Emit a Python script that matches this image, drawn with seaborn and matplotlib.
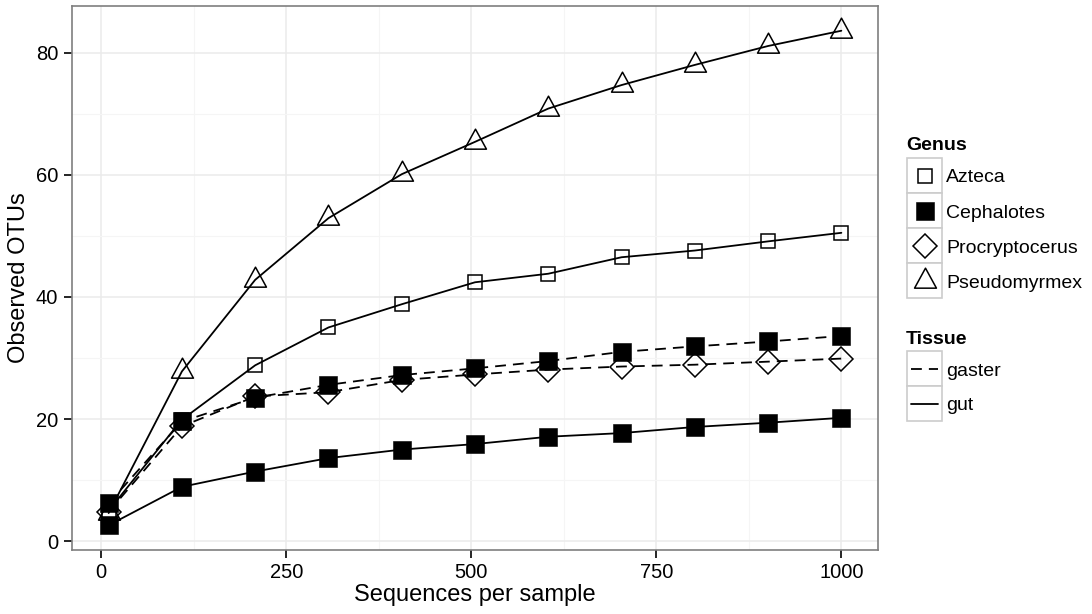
import pandas as pd
import seaborn as sns
import matplotlib.pyplot as plt
from matplotlib.lines import Line2D
from matplotlib.patches import Rectangle
from matplotlib.path import Path
from matplotlib.ticker import MultipleLocator

sns.set_style("white")
plt.rcParams["font.family"] = ["Liberation Sans", "DejaVu Sans"]
plt.rcParams["text.color"] = "black"
plt.rcParams["axes.labelcolor"] = "black"

# rarefaction depths and mean observed OTUs per genus / tissue
seqs = [10, 109, 208, 307, 406, 505, 604, 703, 802, 901, 1000]
azteca_gut = [5.0, 19.9, 28.8, 35.0, 38.8, 42.4, 43.8, 46.5, 47.6, 49.1, 50.5]
cephalotes_gaster = [6.2, 19.6, 23.5, 25.6, 27.2, 28.3, 29.5, 31.0, 31.9, 32.7, 33.6]
cephalotes_gut = [2.6, 8.9, 11.4, 13.6, 15.0, 15.9, 17.1, 17.7, 18.7, 19.4, 20.2]
procryptocerus_gaster = [4.8, 18.8, 23.7, 24.4, 26.4, 27.3, 28.1, 28.6, 28.9, 29.4, 29.9]
pseudomyrmex_gut = [4.6, 27.8, 42.8, 52.9, 60.1, 65.4, 70.85, 74.7, 78.0, 81.1, 83.6]

genera = ["Azteca", "Cephalotes", "Procryptocerus", "Pseudomyrmex"]
tissues = ["gaster", "gut"]

series = [
    ("Azteca", "gut", azteca_gut),
    ("Cephalotes", "gaster", cephalotes_gaster),
    ("Cephalotes", "gut", cephalotes_gut),
    ("Procryptocerus", "gaster", procryptocerus_gaster),
    ("Pseudomyrmex", "gut", pseudomyrmex_gut),
]

df = pd.concat(
    [
        pd.DataFrame({"Sequences": seqs, "OTUs": vals, "Genus": g, "Tissue": t})
        for g, t, vals in series
    ],
    ignore_index=True,
)

# triangle centred on its centroid, like R's pch 2
TRIANGLE = Path([(0, 14), (-11.5, -7), (11.5, -7), (0, 14)], closed=True)

genus_marker = {
    "Azteca": dict(marker="s", markersize=10.3, markerfacecolor="none", markeredgewidth=1.1),
    "Cephalotes": dict(marker="s", markersize=12.3, markerfacecolor="black", markeredgewidth=0.4),
    "Procryptocerus": dict(marker="D", markersize=12.3, markerfacecolor="none", markeredgewidth=1.1),
    "Pseudomyrmex": dict(marker=TRIANGLE, markersize=19.2, markerfacecolor="none", markeredgewidth=1.1),
}
tissue_dash = {"gaster": (0, (6, 3.9)), "gut": "-"}

W, H = 1092, 614
fig = plt.figure(figsize=(W / 100, H / 100), dpi=100)
ax = fig.add_axes([72 / W, 1 - 550 / H, (878 - 72) / W, (550 - 6) / H])

# lines first, then points on top (ggplot layer order)
for (g, t), sub in df.groupby(["Genus", "Tissue"]):
    sns.lineplot(
        data=sub, x="Sequences", y="OTUs", color="black", linewidth=1.3,
        linestyle=tissue_dash[t], errorbar=None, legend=False, ax=ax, zorder=2,
    )
for (g, t), sub in df.groupby(["Genus", "Tissue"]):
    sns.lineplot(
        data=sub, x="Sequences", y="OTUs", color="black", linestyle="none",
        markeredgecolor="black", errorbar=None, legend=False, ax=ax, zorder=3,
        **genus_marker[g],
    )

ax.xaxis.set_major_locator(MultipleLocator(250))
ax.xaxis.set_minor_locator(MultipleLocator(125))
ax.yaxis.set_major_locator(MultipleLocator(20))
ax.yaxis.set_minor_locator(MultipleLocator(10))
ax.grid(which="major", color="#EBEBEB", linewidth=1.1)
ax.grid(which="minor", color="#F5F5F5", linewidth=0.8)
ax.set_axisbelow(True)
for sp in ax.spines.values():
    sp.set_color("#7F7F7F")
    sp.set_linewidth(1.2)
ax.tick_params(which="major", length=5.5, width=1.2, color="black",
               labelsize=14.5, labelcolor="black", bottom=True, left=True)
ax.tick_params(axis="y", pad=4.5)
ax.tick_params(axis="x", pad=3.5)
ax.tick_params(which="minor", length=0)

ax.set_xlabel("Sequences per sample", fontsize=17, color="black")
ax.set_ylabel("Observed OTUs", fontsize=17, color="black")
ax.xaxis.set_label_coords(0.5, (550 - 595) / 544)
ax.xaxis.label.set_va("center")
ax.yaxis.set_label_coords((19 - 72) / 806, 0.5)
ax.yaxis.label.set_va("center")


def fxy(px, py):
    return px / W, 1 - py / H


def key_box(top):
    x0, y0 = fxy(907, top + 35)
    fig.add_artist(Rectangle((x0, y0), 35 / W, 35 / H, transform=fig.transFigure,
                             facecolor="white", edgecolor="#CCCCCC", linewidth=1.2))


# legend: Genus
fig.text(*fxy(906, 150.5), "Genus", fontsize=14, fontweight="bold", va="baseline")
for i, g in enumerate(genera):
    top = 158 + 35 * i
    key_box(top)
    cx, cy = fxy(924.5, top + 17.5)
    fig.add_artist(Line2D([cx], [cy], transform=fig.transFigure, linestyle="none",
                          markeredgecolor="black", **genus_marker[g]))
    fig.text(*fxy(946, top + 24.5), g, fontsize=14, va="baseline")

# legend: Tissue
fig.text(*fxy(906, 343.5), "Tissue", fontsize=14, fontweight="bold", va="baseline")
for i, t in enumerate(tissues):
    top = 351 + 35 * i
    key_box(top)
    x1, cy = fxy(911, top + 17.5)
    x2, _ = fxy(938, top + 17.5)
    fig.add_artist(Line2D([x1, x2], [cy, cy], transform=fig.transFigure, color="black",
                          linewidth=1.3, linestyle=tissue_dash[t]))
    fig.text(*fxy(946, top + 24.5), t, fontsize=14, va="baseline")

fig.savefig("out.png", dpi=100)
